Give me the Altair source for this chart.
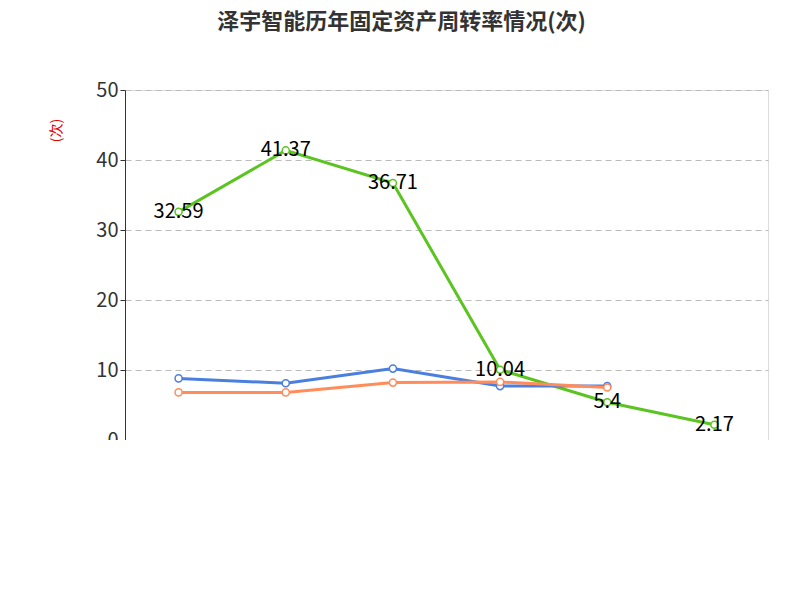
import pandas as pd
import altair as alt

years = ["2021", "2022", "2023", "2024", "2025", "2026H1"]
company = [32.59, 41.37, 36.71, 10.04, 5.4, 2.17]
industry_avg = [8.8, 8.1, 10.2, 7.7, 7.7, None]
industry_median = [6.8, 6.8, 8.2, 8.3, 7.5, None]
series_names = ["公司固定资产周转率", "行业均值", "行业中位数"]
colors = ["#5bc421", "#4a7fe0", "#ff8c5a"]
footer_text = "制图数据来自恒生聚源数据库"

rows = []
for name, vals in zip(series_names, [company, industry_avg, industry_median]):
    for y, v in zip(years, vals):
        if v is not None:
            rows.append({"year": y, "value": v, "series": name})
df = pd.DataFrame(rows)

sym = "M-1.6,0 L-0.55,0 M0.55,0 L1.6,0 M0.55,0 A0.55,0.55 0 1 1 -0.55,0 A0.55,0.55 0 1 1 0.55,0"

x = alt.X("year:N", sort=years, title=None,
          axis=alt.Axis(labelAngle=0, labelFontSize=20, labelColor="#333", tickBand="extent",
                        domainColor="#333", tickColor="#333", labelPadding=8, tickSize=6))
y = alt.Y("value:Q", title="(次)", scale=alt.Scale(domain=[0, 50]),
          axis=alt.Axis(values=[0, 10, 20, 30, 40, 50], labelFontSize=20, labelColor="#333",
                        titleColor="#d00", titleFontSize=14, titleFontWeight="normal",
                        titleX=-62, titleY=40, gridDash=[6, 4], gridColor="#bbb",
                        domainColor="#333", tickColor="#333"))
color = alt.Color("series:N", scale=alt.Scale(domain=series_names, range=colors),
                  legend=alt.Legend(orient="none", legendX=-55, legendY=432, direction="horizontal",
                                    title=None, symbolType=sym, symbolSize=380,
                                    symbolStrokeWidth=2, symbolFillColor="white", labelFontSize=20,
                                    labelColor="#333", columnPadding=22, labelLimit=0))

base = alt.Chart(df).encode(x=x, y=y, color=color)
lines = base.mark_line(strokeWidth=3)
pts = base.mark_point(filled=False, fill="white", fillOpacity=1, size=50, strokeWidth=1.5, opacity=1)
labels = alt.Chart(df[df.series == series_names[0]]).mark_text(fontSize=20, color="black").encode(
    x=alt.X("year:N", sort=years), y="value:Q", text="value:Q")
footer = alt.Chart(pd.DataFrame({"t": [footer_text]})).mark_text(
    fontSize=15, color="#c8960a").encode(text="t:N", x=alt.value(321), y=alt.value(500))

chart = (lines + pts + labels + footer).properties(
    width=643, height=350,
    autosize=alt.AutoSizeParams(type="none"),
    padding={"left": 117, "top": 82, "right": 24, "bottom": 0},
    title=alt.TitleParams("泽宇智能历年固定资产周转率情况(次)", fontSize=22, color="#333",
                          anchor="middle", offset=46, dx=-45),
).configure_view(stroke=None).configure(font="Noto Sans CJK SC")

chart.save("out.html", embed_options={"renderer": "svg", "actions": False})
